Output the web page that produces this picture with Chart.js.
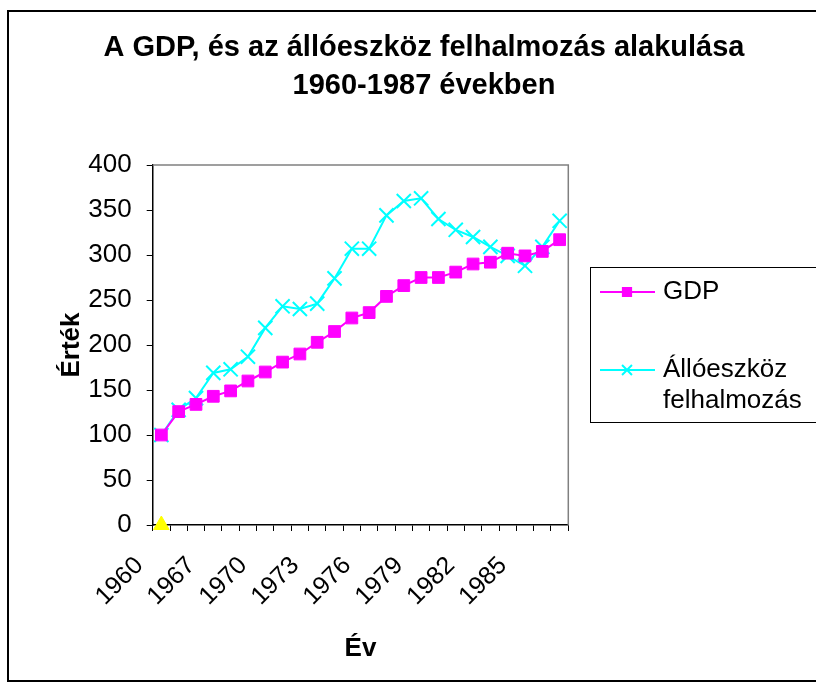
<!DOCTYPE html>
<html>
<head>
<meta charset="utf-8">
<script src="https://cdn.jsdelivr.net/npm/chart.js@4/dist/chart.umd.min.js"></script>
<style>
  body { margin: 0; background: #fff; }
  canvas { display: block; }
</style>
</head>
<body>
<canvas id="chart" width="816" height="688"></canvas>
<script>
const evek = ['1960', '1965', '1966', '1967', '1968', '1969', '1970', '1971', '1972', '1973', '1974', '1975',
  '1976', '1977', '1978', '1979', '1980', '1981', '1982', '1983', '1984', '1985', '1986', '1987'];
const gdp = [100, 126, 134, 143, 149, 160, 170, 181, 190, 203, 215, 230,
  236, 254, 266, 275, 275, 281, 290, 292, 302, 299, 304, 317];
const alloeszkoz = [100, 128, 141, 169, 173, 187, 219, 243, 240, 246, 274, 307,
  307, 344, 360, 363, 340, 328, 320, 309, 299, 288, 309, 338];
const jelolo = [0, null, null, null, null, null, null, null, null, null, null, null,
  null, null, null, null, null, null, null, null, null, null, null, null];
const yTicks = [0, 50, 100, 150, 200, 250, 300, 350, 400];

const font = '"Liberation Sans", Arial, sans-serif';

// keret, cim, jelmagyarazat
const decor = {
  id: 'decor',
  beforeDraw(chart) {
    const c = chart.ctx;
    c.save();
    c.fillStyle = '#fff';
    c.fillRect(0, 0, chart.width, chart.height);
    c.strokeStyle = '#000';
    c.lineWidth = 2;
    c.strokeRect(8, 11, 820, 670);
    c.restore();
  },
  afterDraw(chart) {
    const c = chart.ctx;
    const a = chart.chartArea;
    c.save();
    c.strokeStyle = '#808080';
    c.lineWidth = 1.5;
    c.beginPath();
    c.moveTo(a.left, a.top);
    c.lineTo(a.right, a.top);
    c.lineTo(a.right, a.bottom);
    c.stroke();

    c.fillStyle = '#000';
    c.textAlign = 'center';
    c.textBaseline = 'middle';
    c.font = 'bold 29px ' + font;
    c.fillText('A GDP, és az állóeszköz felhalmozás alakulása', 424, 48);
    c.fillText('1960-1987 években', 424, 86);

    // legend
    c.strokeStyle = '#000';
    c.lineWidth = 1;
    c.strokeRect(590.5, 267.5, 240, 155);
    const items = [
      { ds: chart.data.datasets[0], y: 292, lines: ['GDP'] },
      { ds: chart.data.datasets[1], y: 370, lines: ['Állóeszköz', 'felhalmozás'] }
    ];
    items.forEach(it => {
      c.strokeStyle = it.ds.borderColor;
      c.lineWidth = 2;
      c.beginPath();
      c.moveTo(600, it.y);
      c.lineTo(655, it.y);
      c.stroke();
      c.fillStyle = it.ds.pointBackgroundColor;
      c.strokeStyle = it.ds.pointBorderColor;
      Chart.helpers.drawPoint(c, {
        pointStyle: it.ds.pointStyle,
        radius: it.ds.pointRadius * 0.7,
        borderWidth: it.ds.pointBorderWidth
      }, 627, it.y);
      c.fillStyle = '#000';
      c.textAlign = 'left';
      c.font = '26px ' + font;
      it.lines.forEach((t, k) => c.fillText(t, 663, it.y + k * 31));
    });
    c.restore();
  }
};

new Chart(document.getElementById('chart'), {
  type: 'line',
  data: {
    labels: evek,
    datasets: [{
      label: 'GDP',
      data: gdp,
      borderColor: '#ff00ff',
      backgroundColor: '#ff00ff',
      borderWidth: 2,
      pointStyle: 'rect',
      pointRadius: 8.3,
      pointBackgroundColor: '#ff00ff',
      pointBorderColor: '#ff00ff',
      pointBorderWidth: 1,
      tension: 0
    }, {
      label: 'Állóeszköz felhalmozás',
      data: alloeszkoz,
      borderColor: '#00ffff',
      backgroundColor: '#00ffff',
      borderWidth: 2,
      pointStyle: 'crossRot',
      pointRadius: 10,
      pointBorderColor: '#00ffff',
      pointBackgroundColor: '#00ffff',
      pointBorderWidth: 2,
      tension: 0
    }, {
      label: '',
      data: jelolo,
      showLine: false,
      pointStyle: 'triangle',
      pointRadius: 9,
      pointBackgroundColor: '#ffff00',
      pointBorderColor: '#ffff00',
      pointBorderWidth: 1,
      clip: false
    }]
  },
  options: {
    responsive: false,
    animation: false,
    layout: { padding: { left: 0, right: 247.7, top: 165, bottom: 0 } },
    plugins: {
      legend: { display: false },
      title: { display: false },
      tooltip: { enabled: false }
    },
    scales: {
      x: {
        offset: true,
        grid: { offset: true, drawOnChartArea: false, color: '#000', tickLength: 6 },
        border: { color: '#000', width: 1.5 },
        ticks: {
          autoSkip: false,
          maxRotation: 45,
          minRotation: 45,
          padding: 20,
          labelOffset: -22,
          color: '#000',
          font: { family: font, size: 25 },
          callback: function (v, i) { return i % 3 === 0 ? evek[i] : ''; }
        },
        title: { display: true, text: 'Év', color: '#000', font: { family: font, size: 26, weight: 'bold' }, padding: { top: 0, bottom: 24 } },
        afterFit: s => { s.height = 163; }
      },
      y: {
        min: 0,
        max: 400,
        afterBuildTicks: s => { s.ticks = yTicks.map(v => ({ value: v })); },
        grid: { drawOnChartArea: false, color: '#000', tickLength: 6 },
        border: { color: '#000', width: 1.5 },
        ticks: { padding: 15, color: '#000', font: { family: font, size: 26 } },
        title: { display: true, text: 'Érték', color: '#000', font: { family: font, size: 26, weight: 'bold' }, padding: { top: 56, bottom: 0 } },
        afterFit: s => { s.width = 152.7; }
      }
    }
  },
  plugins: [decor]
});
</script>
</body>
</html>
